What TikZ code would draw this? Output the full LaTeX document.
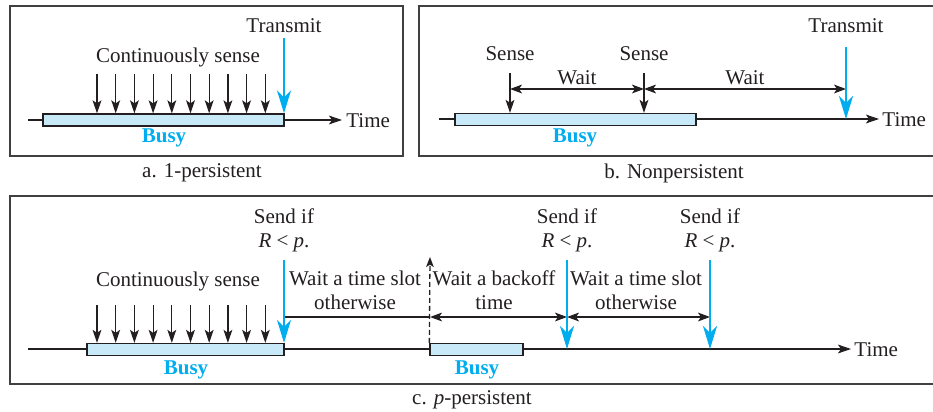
\documentclass[tikz,border=0pt]{standalone}
\usepackage{fontspec}
\setmainfont{Liberation Serif}
\usetikzlibrary{arrows.meta,positioning,calc}
\definecolor{csblue}{RGB}{0,173,239}
\definecolor{busyfill}{RGB}{200,233,248}
\definecolor{ink}{RGB}{35,31,32}
\tikzset{
  panel/.style={draw=black!75, line width=1pt},
  busybar/.style={rectangle, draw=ink, fill=busyfill, line width=0.65pt,
                  inner sep=0pt, minimum height=6pt},
  busylabel/.style={font=\fontsize{10.5}{12}\selectfont\bfseries, text=csblue},
  timeline/.style={-{Stealth[length=6.5pt,width=4.4pt,inset=1.5pt]}, line width=0.65pt, draw=ink},
  sensearrow/.style={-{Stealth[length=6.5pt,width=4.4pt,inset=1.5pt]}, line width=0.6pt, draw=ink},
  sendarrow/.style={-{Stealth[length=11.5pt,width=7pt,inset=3.5pt]}, draw=csblue, line width=1.3pt},
  waitarrow/.style={{Stealth[length=6pt,width=4.4pt,inset=1.5pt]}-{Stealth[length=6pt,width=4.4pt,inset=1.5pt]},
                    line width=0.6pt, draw=ink},
  backoff/.style={-{Stealth[length=5pt,width=3.8pt,inset=1.2pt]}, dash pattern=on 2.5pt off 1.5pt,
                  line width=0.65pt, draw=ink},
  label/.style={align=center, inner sep=0pt}
}

\begin{document}
\begin{tikzpicture}[x=0.5pt, y=-0.5pt, every node/.style={font=\fontsize{10.5}{12}\selectfont, text=ink}]
\useasboundingbox (0,0) rectangle (933,412);

% a. 1-persistent
\draw[panel] (10,6) rectangle (403,156);
\coordinate (tA0) at (28,120);
\coordinate (tA1) at (342,120);
\draw[timeline] (tA0) -- (tA1);
\node[busybar, minimum width=120.5pt] (busyA) at (163.5,120) {};
\node[busylabel] (busyAlbl) at (164,138) {Busy};
\node[anchor=west, inner sep=1pt] (timeA) at (344,121) {Time};
\node (contA) at (178,57) {Continuously sense};
\foreach \i in {0,...,9}{
  \coordinate (sA\i) at (97+\i*18.7,74);
  \draw[sensearrow] (sA\i) -- (sA\i |- busyA.north);
}
\node (transA) at (284,26) {Transmit};
\coordinate (sendA) at (284,38);
\draw[sendarrow] (sendA) -- (sendA |- busyA.north);
\node (capA) at (202,173) {a. 1-persistent};

% b. Nonpersistent
\draw[panel] (419,6) rectangle (936,156);
\coordinate (tB0) at (439,119);
\coordinate (tB1) at (879,119);
\draw[timeline] (tB0) -- (tB1);
\node[busybar, minimum width=120.5pt] (busyB) at (575.5,119.5) {};
\node[busylabel] (busyBlbl) at (575,138) {Busy};
\node[anchor=west, inner sep=1pt] (timeB) at (880,120) {Time};
\node (senseB1) at (510,54) {Sense};
\node (senseB2) at (644,54) {Sense};
\coordinate (sB1) at (510,73);
\coordinate (sB2) at (644,73);
\draw[sensearrow] (sB1) -- (sB1 |- busyB.north);
\draw[sensearrow] (sB2) -- (sB2 |- busyB.north);
\coordinate (wB1) at (510,89);
\coordinate (wB2) at (644,89);
\coordinate (wB3) at (846,89);
\draw[waitarrow] (wB1) -- (wB2);
\draw[waitarrow] (wB2) -- (wB3);
\node (waitB1) at (577,78) {Wait};
\node (waitB2) at (745,78) {Wait};
\node (transB) at (846,26) {Transmit};
\coordinate (sendB) at (846,47);
\draw[sendarrow] (sendB) -- (sendB |- tB1);
\node (capB) at (674,173) {b. Nonpersistent};

% c. p-persistent
\draw[panel] (10,196) rectangle (936,384);
\coordinate (tC0) at (28,349);
\coordinate (tC1) at (851,349);
\draw[timeline] (tC0) -- (tC1);
\node[busybar, minimum width=98.5pt] (busyC1) at (185.5,349.5) {};
\node[busybar, minimum width=46.5pt] (busyC2) at (476.5,349.5) {};
\node[busylabel] (busyC1lbl) at (186,370) {Busy};
\node[busylabel] (busyC2lbl) at (477,370) {Busy};
\node[anchor=west, inner sep=1pt] (timeC) at (852,350) {Time};
\node (contC) at (178,281) {Continuously sense};
\foreach \i in {0,...,9}{
  \coordinate (sC\i) at (97+\i*18.7,305);
  \draw[sensearrow] (sC\i) -- (sC\i |- busyC1.north);
}
\node[label] (sendC1lbl) at (284,230) {Send if\\\textit{R} < \textit{p}.};
\node[label] (sendC2lbl) at (567,230) {Send if\\\textit{R} < \textit{p}.};
\node[label] (sendC3lbl) at (710,230) {Send if\\\textit{R} < \textit{p}.};
\coordinate (sendC1) at (284,260);
\coordinate (sendC2) at (567,260);
\coordinate (sendC3) at (710,260);
\coordinate (bkC) at (430,257);
\draw[backoff] (busyC2.north west) -- (bkC);
\coordinate (wC0) at (284,317);
\coordinate (wC1) at (430,317);
\coordinate (wC2) at (567,317);
\coordinate (wC3) at (710,317);
\draw[line width=0.6pt, draw=ink] (wC0) -- (wC1);
\draw[waitarrow] (wC1) -- (wC2);
\draw[waitarrow] (wC2) -- (wC3);
\draw[sendarrow] (sendC1) -- (sendC1 |- busyC1.north);
\draw[sendarrow] (sendC2) -- (sendC2 |- tC1);
\draw[sendarrow] (sendC3) -- (sendC3 |- tC1);
\node[label] (waitC1) at (355,290) {Wait a time slot\\otherwise};
\node[label] (waitC2) at (494,290) {Wait a backoff\\time};
\node[label] (waitC3) at (636,290) {Wait a time slot\\otherwise};
\node (capC) at (472,400) {c. \textit{p}-persistent};
\end{tikzpicture}
\end{document}
